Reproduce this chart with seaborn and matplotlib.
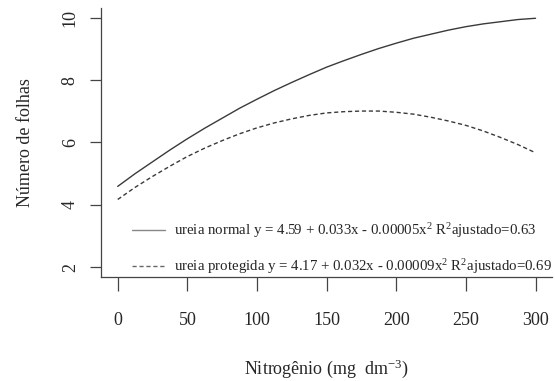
import pandas as pd
import matplotlib
matplotlib.use('Agg')
import matplotlib.pyplot as plt
import seaborn as sns
from matplotlib.lines import Line2D

nitrogen = [0, 12.5, 25, 37.5, 50, 62.5, 75, 87.5, 100, 112.5, 125, 137.5,
            150, 162.5, 175, 187.5, 200, 212.5, 225, 237.5, 250, 262.5,
            275, 287.5, 300]
folhas_normal = [4.59, 5.00, 5.38, 5.76, 6.12, 6.46, 6.78, 7.10, 7.39,
                 7.67, 7.93, 8.18, 8.42, 8.63, 8.83, 9.02, 9.19, 9.35,
                 9.48, 9.61, 9.72, 9.81, 9.88, 9.95, 9.99]
folhas_protegida = [4.17, 4.56, 4.91, 5.24, 5.55, 5.82, 6.06, 6.28, 6.47,
                    6.63, 6.76, 6.87, 6.95, 6.99, 7.01, 7.01, 6.97, 6.91,
                    6.81, 6.69, 6.55, 6.37, 6.16, 5.93, 5.67]
series_names = ['ureia normal', 'ureia protegida']
legend_labels = [
    'ureia normal y = 4.59 + 0.033x - 0.00005x$^2$ R$^2$ajustado=0.63',
    'ureia protegida y = 4.17 + 0.032x - 0.00009x$^2$ R$^2$ajustado=0.69',
]
x_ticks = [0, 50, 100, 150, 200, 250, 300]
y_ticks = [2, 4, 6, 8, 10]

df = pd.DataFrame({
    'x': nitrogen * 2,
    'y': folhas_normal + folhas_protegida,
    'serie': [series_names[0]] * len(nitrogen) + [series_names[1]] * len(nitrogen),
})

sns.set_style('ticks')
plt.rcParams['font.family'] = ['Liberation Serif', 'DejaVu Serif']
plt.rcParams['mathtext.fontset'] = 'custom'
plt.rcParams['mathtext.rm'] = 'Liberation Serif'
plt.rcParams['mathtext.it'] = 'Liberation Serif:italic'

fig = plt.figure(figsize=(5.55, 3.81), dpi=100)
ax = fig.add_axes([0.182, 0.273, 0.813, 0.706])

line_color = '#3a3a3a'
sns.lineplot(data=df, x='x', y='y', hue='serie', style='serie',
             palette=[line_color, line_color],
             dashes={series_names[0]: '', series_names[1]: (3, 2)},
             linewidth=1.0, ax=ax, legend=False)

ax.set_xlim(-12, 312)
ax.set_ylim(1.68, 10.32)
ax.set_xticks(x_ticks)
ax.set_yticks(y_ticks)
ax.set_yticklabels([str(v) for v in y_ticks], rotation=90, va='center')

for s in ['top', 'right']:
    ax.spines[s].set_visible(False)
for s in ['left', 'bottom']:
    ax.spines[s].set_color('#444444')
    ax.spines[s].set_linewidth(0.9)

ax.tick_params(axis='y', length=8, width=0.9, color='#444444',
               labelsize=13, pad=8)
ax.tick_params(axis='x', length=10, width=0.9, color='#444444',
               labelsize=13, pad=15)

ax.set_xlabel('Nitrogênio (mg  dm$^{-3}$)', fontsize=13, labelpad=21)
ax.set_ylabel('Número de folhas', fontsize=13, labelpad=20)

handles = [
    Line2D([], [], color='#888888', lw=1.0, linestyle='-'),
    Line2D([], [], color='#666666', lw=1.0, dashes=(3, 2)),
]
ax.legend(handles, legend_labels, loc='lower left',
          bbox_to_anchor=(0.04, -0.045), frameon=False, fontsize=10.7,
          handlelength=2.2, handletextpad=0.6, labelspacing=1.1)

fig.savefig('out.png', dpi=100)
